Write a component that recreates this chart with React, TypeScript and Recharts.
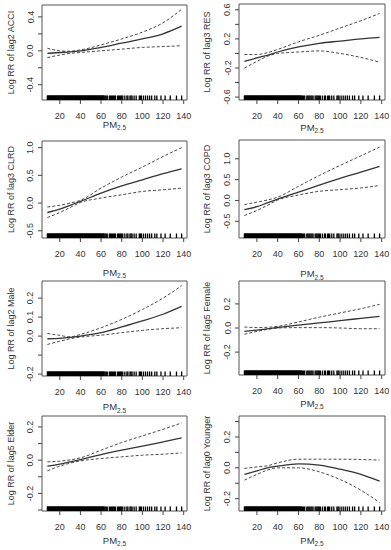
import React from "react";
import {
  ComposedChart,
  Line,
  XAxis,
  YAxis,
  Scatter,
  ReferenceArea,
} from "recharts";

// PM2.5 values where the curves were read
const pm25 = [8, 20, 30, 40, 60, 80, 100, 120, 138];

// lag2 ACCI
const acciFit = [-0.03, -0.02, -0.012, 0.0, 0.04, 0.09, 0.14, 0.2, 0.29];
const acciHi = [0.03, 0.0, -0.005, 0.01, 0.07, 0.14, 0.22, 0.33, 0.49];
const acciLo = [-0.08, -0.05, -0.03, -0.02, 0.0, 0.02, 0.04, 0.05, 0.06];

// lag3 RES
const resFit = [-0.11, -0.06, -0.025, 0.02, 0.09, 0.14, 0.17, 0.2, 0.22];
const resHi = [-0.015, -0.015, 0.01, 0.055, 0.16, 0.25, 0.35, 0.45, 0.55];
const resLo = [-0.2, -0.11, -0.04, 0.0, 0.02, 0.035, 0.0, -0.055, -0.12];

// lag3 CLRD
const clrdFit = [-0.17, -0.11, -0.04, 0.03, 0.18, 0.31, 0.42, 0.53, 0.62];
const clrdHi = [-0.07, -0.04, 0.0, 0.05, 0.27, 0.47, 0.65, 0.84, 1.0];
const clrdLo = [-0.26, -0.17, -0.08, 0.01, 0.09, 0.15, 0.21, 0.24, 0.27];

// lag3 COPD
const copdFit = [-0.22, -0.15, -0.06, 0.03, 0.2, 0.37, 0.53, 0.68, 0.82];
const copdHi = [-0.1, -0.04, 0.01, 0.08, 0.34, 0.6, 0.84, 1.07, 1.28];
const copdLo = [-0.36, -0.24, -0.12, 0.01, 0.13, 0.22, 0.26, 0.3, 0.36];

// lag2 Male
const maleFit = [-0.014, -0.012, -0.007, 0.0, 0.018, 0.048, 0.08, 0.115, 0.156];
const maleHi = [0.014, 0.004, -0.004, 0.009, 0.044, 0.088, 0.14, 0.2, 0.265];
const maleLo = [-0.044, -0.027, -0.014, -0.005, 0.005, 0.018, 0.03, 0.039, 0.044];

// lag5 Female
const femaleFit = [-0.028, -0.017, -0.007, 0.004, 0.023, 0.042, 0.061, 0.08, 0.097];
const femaleHi = [0.008, 0.004, 0.006, 0.014, 0.05, 0.09, 0.125, 0.16, 0.196];
const femaleLo = [-0.052, -0.028, -0.012, 0.0, 0.003, 0.003, 0.0, -0.006, -0.006];

// lag5 Elder
const elderFit = [-0.036, -0.024, -0.01, 0.004, 0.034, 0.06, 0.084, 0.11, 0.134];
const elderHi = [-0.01, -0.006, 0.002, 0.014, 0.06, 0.106, 0.146, 0.186, 0.224];
const elderLo = [-0.064, -0.036, -0.018, -0.004, 0.01, 0.02, 0.03, 0.036, 0.044];

// lag0 Younger
const youngFit = [-0.043, -0.02, 0.0, 0.011, 0.026, 0.017, -0.009, -0.043, -0.087];
const youngHi = [-0.004, 0.006, 0.013, 0.032, 0.056, 0.056, 0.056, 0.054, 0.05];
const youngLo = [-0.08, -0.043, -0.015, 0.0, 0.0, -0.026, -0.076, -0.145, -0.225];

// observed PM2.5 values (rug)
const rugValues = [
  8, 8.5, 9, 9.5, 10, 10.5, 11, 11.5, 12, 12.5, 13, 13.5, 14, 14.5, 15, 15.5,
  16, 16.5, 17, 17.5, 18, 18.5, 19, 19.5, 20, 20.5, 21, 21.5, 22, 22.5, 23,
  23.5, 24, 24.5, 25, 25.5, 26, 26.5, 27, 27.5, 28, 28.5, 29, 29.5, 30, 30.5,
  31, 31.5, 32, 32.5, 33, 33.5, 34, 34.5, 35, 35.5, 36, 36.5, 37, 37.5, 38,
  38.5, 39, 39.5, 40, 40.5, 41, 41.5, 42, 42.5, 43, 43.5, 44, 44.5, 45, 45.5,
  46, 46.5, 47, 47.5, 48, 48.5, 49, 49.5, 50, 50.5, 51, 51.5, 52, 52.5, 53,
  53.5, 54, 54.5, 55, 55.5, 56, 56.5, 57, 57.5, 58, 58.5, 59, 59.5, 60, 60.5,
  61, 61.5, 62, 62.5, 63, 64, 65, 66, 68, 69, 70, 71, 72, 73, 74, 76, 77, 78,
  79, 80, 81, 83, 85, 86, 88, 89, 90, 92, 94, 97, 98, 99, 101, 103, 105, 107,
  109, 112, 114, 118, 122, 127, 133, 138,
];

const xTicks = [20, 40, 60, 80, 100, 120, 140];
const xDomain = [2.8, 143.2];

const titles = [
  "Log RR of lag2 ACCI",
  "Log RR of lag3 RES",
  "Log RR of lag3 CLRD",
  "Log RR of lag3 COPD",
  "Log RR of lag2 Male",
  "Log RR of lag5 Female",
  "Log RR of lag5 Elder",
  "Log RR of lag0 Younger",
];
const fits = [acciFit, resFit, clrdFit, copdFit, maleFit, femaleFit, elderFit, youngFit];
const his = [acciHi, resHi, clrdHi, copdHi, maleHi, femaleHi, elderHi, youngHi];
const los = [acciLo, resLo, clrdLo, copdLo, maleLo, femaleLo, elderLo, youngLo];
const yDomains = [
  [-0.58, 0.54],
  [-0.64, 0.68],
  [-0.63, 1.12],
  [-0.9, 1.45],
  [-0.21, 0.29],
  [-0.39, 0.39],
  [-0.306, 0.266],
  [-0.28, 0.336],
];
const yTicks = [
  [-0.4, -0.2, 0, 0.2, 0.4],
  [-0.6, -0.4, -0.2, 0, 0.2, 0.4, 0.6],
  [-0.5, 0, 0.5, 1.0],
  [-0.5, 0, 0.5, 1.0],
  [-0.2, -0.1, 0, 0.1, 0.2],
  [-0.2, 0, 0.2],
  [-0.3, -0.2, -0.1, 0, 0.1, 0.2],
  [-0.2, -0.1, 0, 0.1, 0.2, 0.3],
];
const yLabelled = [
  [-0.4, 0, 0.4],
  [-0.6, -0.2, 0.2, 0.6],
  [-0.5, 0, 0.5, 1.0],
  [-0.5, 0, 0.5, 1.0],
  [-0.2, 0, 0.1, 0.2],
  [-0.2, 0, 0.2],
  [-0.2, 0, 0.2],
  [-0.2, 0, 0.2],
];

// layout: panel position, plot box inside it, x-title baseline
const layout = [
  { left: 0, top: 0, box: [42, 5, 187, 100], titleY: 127.7 },
  { left: 196, top: 0, box: [43, 4, 189, 100], titleY: 130.5 },
  { left: 0, top: 136, box: [42, 5, 187, 102], titleY: 139.5 },
  { left: 196, top: 136, box: [43, 4, 189, 102], titleY: 141 },
  { left: 0, top: 276, box: [42, 5, 187, 100], titleY: 134 },
  { left: 196, top: 276, box: [43, 5, 189, 99], titleY: 130.7 },
  { left: 0, top: 412, box: [42, 4, 187, 99], titleY: 131.7 },
  { left: 196, top: 412, box: [43, 4, 189, 99], titleY: 131.7 },
];

const W = 196;
const H = 146;
const tickFont = "'Liberation Sans Narrow', 'Arial Narrow', 'Liberation Sans', Arial, sans-serif";
const titleFont = "'Liberation Sans', Arial, sans-serif";
const ink = "#333";

const RugTick = (props: any) => (
  <line x1={props.cx} x2={props.cx} y1={props.cy} y2={props.cy - 4.5} stroke="#000" strokeWidth={1.3} />
);

function Panel({ i }: { i: number }) {
  const { left, top, box, titleY } = layout[i];
  const [bl, bt, br, bb] = box;
  const domain = yDomains[i];
  const rows = pm25.map((x, k) => ({ x, fit: fits[i][k], hi: his[i][k], lo: los[i][k] }));
  const rug = rugValues.map((x) => ({ x, y: domain[0] }));
  const labelled = yLabelled[i];

  const xTick = (p: any) => (
    <text x={p.x} y={p.y + 14.5} textAnchor="middle" fontSize={9} fontFamily={tickFont} fill={ink}>
      {p.payload.value}
    </text>
  );
  const yTick = (p: any) => {
    const v = p.payload.value;
    const show = labelled.some((l) => Math.abs(l - v) < 1e-9);
    if (!show) return <g />;
    const bx = p.x - 4.5;
    return (
      <text x={bx} y={p.y} transform={`rotate(-90 ${bx} ${p.y})`} textAnchor="middle" fontSize={9} fontFamily={tickFont} fill={ink}>
        {v.toFixed(1)}
      </text>
    );
  };
  const xTitle = (p: any) => {
    const vb = p.viewBox;
    const cx = vb.x + vb.width / 2;
    return (
      <text x={cx} y={titleY} textAnchor="middle" fontSize={9.5} fontFamily={titleFont} fill={ink}>
        PM
        <tspan fontSize={6.5} dy={2.5}>2.5</tspan>
      </text>
    );
  };
  const yTitle = (p: any) => {
    const vb = p.viewBox;
    const cy = vb.y + vb.height / 2;
    return (
      <text x={13.5} y={cy} transform={`rotate(-90 13.5 ${cy})`} textAnchor="middle" fontSize={9} fontFamily={titleFont} fill={ink}>
        {titles[i]}
      </text>
    );
  };

  return (
    <div style={{ position: "absolute", left, top, width: W, height: H }}>
      <ComposedChart
        width={W}
        height={H}
        data={rows}
        margin={{ top: bt, right: W - br, left: 0, bottom: 0 }}
      >
        <XAxis
          type="number"
          dataKey="x"
          domain={xDomain}
          ticks={xTicks}
          interval={0}
          allowDataOverflow
          height={H - bb}
          axisLine={false}
          tickSize={4}
          tickMargin={0}
          tickLine={{ stroke: "#444" }}
          tick={xTick}
          label={{ content: xTitle }}
        />
        <YAxis
          type="number"
          domain={domain}
          ticks={yTicks[i]}
          interval={0}
          allowDataOverflow
          width={bl}
          axisLine={false}
          tickSize={4}
          tickMargin={0}
          tickLine={{ stroke: "#444" }}
          tick={yTick}
          label={{ content: yTitle }}
        />
        <ReferenceArea
          x1={xDomain[0]}
          x2={xDomain[1]}
          y1={domain[0]}
          y2={domain[1]}
          fill="none"
          stroke="#555"
          strokeWidth={1}
          fillOpacity={0}
        />
        <Scatter data={rug} dataKey="y" shape={RugTick} isAnimationActive={false} />
        <Line type="monotone" dataKey="hi" stroke="#4a4a4a" strokeWidth={1} strokeDasharray="3 2" dot={false} isAnimationActive={false} />
        <Line type="monotone" dataKey="lo" stroke="#4a4a4a" strokeWidth={1} strokeDasharray="3 2" dot={false} isAnimationActive={false} />
        <Line type="monotone" dataKey="fit" stroke="#333" strokeWidth={1.3} dot={false} isAnimationActive={false} />
      </ComposedChart>
    </div>
  );
}

export default function App() {
  return (
    <div
      style={{
        position: "absolute",
        left: 0,
        top: 0,
        width: 391,
        height: 550,
        overflow: "hidden",
        background: "#fff",
      }}
    >
      {layout.map((_, i) => (
        <Panel key={i} i={i} />
      ))}
    </div>
  );
}
